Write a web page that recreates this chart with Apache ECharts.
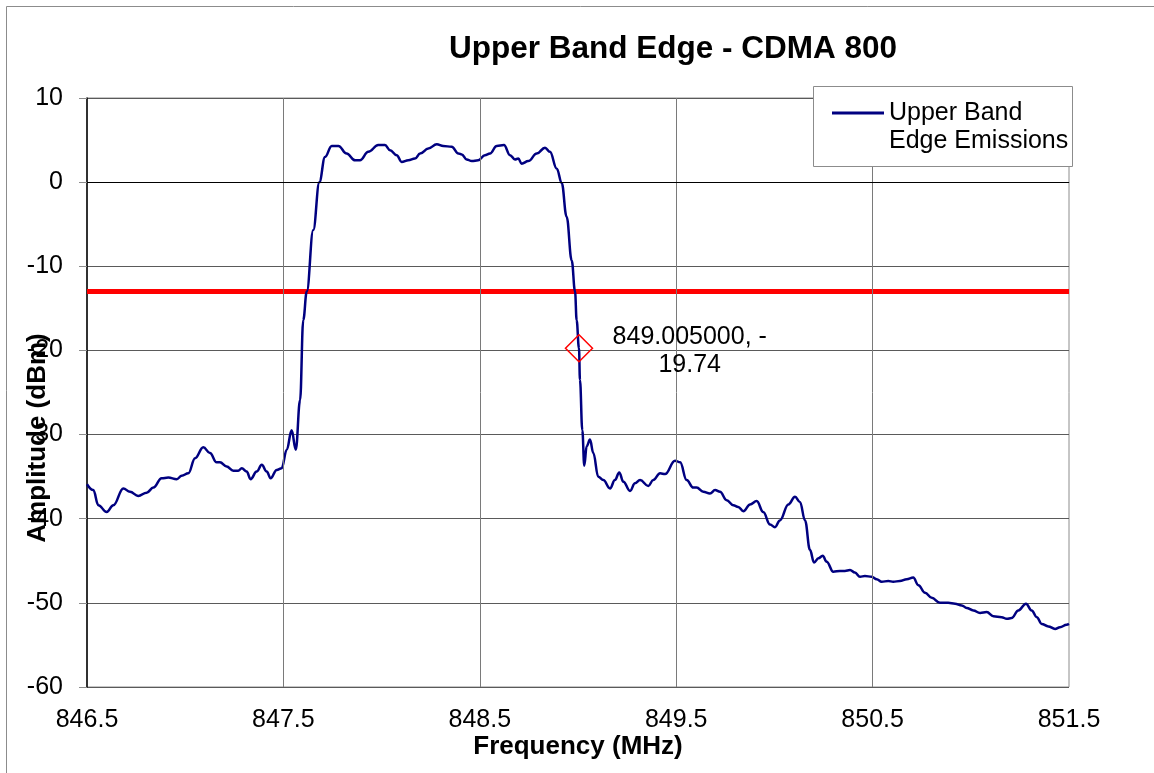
<!DOCTYPE html>
<html>
<head>
<meta charset="utf-8">
<title>Upper Band Edge - CDMA 800</title>
<script src="https://cdn.jsdelivr.net/npm/echarts@6/dist/echarts.min.js"></script>
<style>
  html, body { margin: 0; padding: 0; background: #fff; }
  #chart { width: 1154px; height: 773px; }
</style>
</head>
<body>
<div id="chart"></div>
<script>
// frequency (MHz) / amplitude (dBm)
const freq = [
  846.500, 846.532, 846.558, 846.600, 846.634, 846.685, 846.719, 846.761, 846.804, 846.838,
  846.880, 846.914, 846.957, 846.982, 847.016, 847.050, 847.092, 847.126, 847.160, 847.177,
  847.211, 847.245, 847.270, 847.288, 847.313, 847.333, 847.364, 847.390, 847.415, 847.435,
  847.466, 847.491, 847.517, 847.542, 847.563, 847.585, 847.601, 847.619, 847.652, 847.683,
  847.712, 847.746, 847.780, 847.822, 847.865, 847.890, 847.932, 847.983, 848.017, 848.043,
  848.077, 848.102, 848.136, 848.170, 848.196, 848.238, 848.281, 848.314, 848.357, 848.391,
  848.408, 848.433, 848.459, 848.492, 848.526, 848.552, 848.586, 848.623, 848.654, 848.679,
  848.696, 848.713, 848.747, 848.790, 848.832, 848.857, 848.892, 848.917, 848.942, 848.968,
  848.985, 848.993, 849.005, 849.010, 849.022, 849.032, 849.044, 849.061, 849.078, 849.103,
  849.129, 849.163, 849.188, 849.210, 849.231, 849.265, 849.290, 849.316, 849.358, 849.383,
  849.418, 849.443, 849.494, 849.520, 849.553, 849.587, 849.604, 849.638, 849.672, 849.698,
  849.723, 849.757, 849.791, 849.816, 849.842, 849.876, 849.910, 849.943, 849.978, 850.003,
  850.028, 850.071, 850.105, 850.130, 850.156, 850.181, 850.202, 850.224, 850.246, 850.266,
  850.300, 850.334, 850.359, 850.385, 850.410, 850.436, 850.461, 850.495, 850.521, 850.546,
  850.580, 850.605, 850.639, 850.674, 850.707, 850.733, 850.767, 850.801, 850.843, 850.885,
  850.920, 850.954, 850.979, 851.013, 851.047, 851.081, 851.115, 851.157, 851.183, 851.208,
  851.242, 851.281, 851.310, 851.336, 851.361, 851.395, 851.429, 851.454, 851.488, 851.500
];
const amp = [
  -35.9, -36.6, -38.4, -39.2, -38.4, -36.4, -36.8, -37.3, -36.9, -36.3,
  -35.2, -35.1, -35.3, -34.9, -34.6, -32.8, -31.5, -32.2, -33.3, -33.3,
  -33.8, -34.3, -34.3, -34.0, -34.4, -35.3, -34.4, -33.6, -34.4, -35.2,
  -34.2, -34.0, -31.8, -29.5, -31.8, -25.9, -16.4, -13.0, -5.7, 0.0,
  3.0, 4.3, 4.3, 3.4, 2.6, 2.6, 3.6, 4.4, 4.4, 3.8,
  3.2, 2.4, 2.6, 2.8, 3.4, 4.0, 4.5, 4.3, 4.2, 3.4,
  3.3, 2.7, 2.5, 2.6, 3.2, 3.4, 4.3, 4.4, 3.2, 2.7,
  2.8, 2.2, 2.5, 3.4, 4.1, 3.6, 1.6, -0.1, -4.1, -9.3,
  -13.0, -16.4, -19.74, -23.5, -29.5, -33.7, -31.4, -30.6, -32.2, -35.0,
  -35.4, -36.4, -35.4, -34.5, -35.6, -36.7, -35.8, -35.4, -36.1, -35.4,
  -34.6, -34.7, -33.1, -33.3, -35.4, -36.3, -36.3, -36.8, -37.0, -36.6,
  -36.8, -37.8, -38.4, -38.6, -39.1, -38.3, -37.9, -39.2, -40.7, -41.0,
  -40.2, -38.3, -37.4, -38.0, -40.2, -43.7, -45.2, -44.7, -44.4, -45.1,
  -46.3, -46.2, -46.2, -46.1, -46.4, -46.9, -46.8, -46.9, -47.2, -47.5,
  -47.4, -47.5, -47.4, -47.2, -47.0, -47.9, -48.8, -49.4, -50.0, -50.0,
  -50.1, -50.3, -50.6, -50.9, -51.2, -51.1, -51.6, -51.7, -51.9, -51.8,
  -50.9, -50.1, -50.9, -51.7, -52.5, -52.8, -53.1, -52.9, -52.6, -52.5
];

// axis ticks
const xTicks = [846.5, 847.5, 848.5, 849.5, 850.5, 851.5];
const yTicks = [-60, -50, -40, -30, -20, -10, 0, 10];

// limit line and marked point
const limit = -13;
const marker = [849.005, -19.74];

const chart = echarts.init(document.getElementById('chart'));
const font = 'Liberation Sans, Arial, sans-serif';

const option = {
  animation: false,
  textStyle: { fontFamily: font },
  graphic: [
    {
      // outer chart frame
      type: 'rect',
      shape: { x: 6.5, y: 6.5, width: 1200, height: 800 },
      style: { fill: 'none', stroke: '#8c8c8c', lineWidth: 1 },
      silent: true
    },
    {
      // legend box (drawn under the legend)
      type: 'rect',
      z: 50,
      shape: { x: 813.5, y: 86.5, width: 259, height: 80 },
      style: { fill: '#fff', stroke: '#8c8c8c', lineWidth: 1 },
      silent: true
    },
    {
      // y axis title, sits lower than the plot middle like the original
      type: 'text',
      x: 38,
      y: 438,
      rotation: Math.PI / 2,
      silent: true,
      style: {
        text: 'Amplitude (dBm)',
        fill: '#000',
        font: 'bold 26px ' + font,
        align: 'center',
        verticalAlign: 'middle'
      }
    }
  ],
  title: {
    text: 'Upper Band Edge - CDMA 800',
    left: 668,
    top: 28,
    textAlign: 'center',
    textStyle: { fontFamily: font, fontSize: 31.5, fontWeight: 'bold', color: '#000' }
  },
  legend: {
    data: ['Upper Band Edge Emissions'],
    left: 832,
    top: 71,
    z: 60,
    padding: 0,
    itemWidth: 52,
    itemHeight: 3,
    icon: 'rect',
    // blank first line so the icon lines up with "Upper Band"
    formatter: () => ' \nUpper Band\nEdge Emissions',
    textStyle: { fontFamily: font, fontSize: 25, color: '#000', lineHeight: 28 }
  },
  grid: {
    left: 87,
    top: 98,
    right: 85,
    bottom: 86,
    outerBoundsMode: 'none',
    containLabel: false,
    show: true,
    borderColor: '#8c8c8c',
    borderWidth: 1
  },
  xAxis: {
    type: 'value',
    min: xTicks[0],
    max: xTicks[xTicks.length - 1],
    interval: 0.5,
    name: 'Frequency (MHz)',
    nameLocation: 'middle',
    nameGap: 47,
    nameMoveOverlap: false,
    nameTextStyle: { fontFamily: font, fontSize: 26, fontWeight: 'bold', color: '#000' },
    axisLine: { show: true, lineStyle: { color: '#8c8c8c', width: 1 } },
    axisTick: { show: false },
    splitLine: { show: false },
    axisLabel: {
      margin: 21,
      fontSize: 25,
      color: '#000',
      formatter: v => (xTicks.some(t => Math.abs(t - v) < 1e-6) ? v.toFixed(1) : '')
    }
  },
  yAxis: {
    type: 'value',
    min: yTicks[0],
    max: yTicks[yTicks.length - 1],
    interval: 10,
    axisLine: { show: true, lineStyle: { color: '#000', width: 1.5 } },
    axisTick: { show: true, length: 8, lineStyle: { color: '#8c8c8c' } },
    splitLine: { show: true, lineStyle: { color: '#5a5a5a', width: 1 } },
    axisLabel: { margin: 24, fontSize: 25, color: '#000' }
  },
  series: [
    {
      // vertical grid lines + zero line
      name: 'grid',
      type: 'line',
      data: [],
      silent: true,
      markLine: {
        symbol: 'none',
        silent: true,
        label: { show: false },
        animation: false,
        data: xTicks.slice(1, -1).map(t => ({ xAxis: t, lineStyle: { color: '#7a7a7a', width: 1, type: 'solid' } }))
          .concat([{ yAxis: 0, lineStyle: { color: '#000', width: 1, type: 'solid' } }])
      }
    },
    {
      name: 'Limit',
      type: 'line',
      data: [[xTicks[0], limit], [xTicks[xTicks.length - 1], limit]],
      showSymbol: false,
      silent: true,
      lineStyle: { color: '#ff0000', width: 5 },
      z: 3
    },
    {
      name: 'Upper Band Edge Emissions',
      type: 'line',
      data: freq.map((f, i) => [f, amp[i]]),
      showSymbol: false,
      smooth: 0.4,
      smoothMonotone: 'x',
      color: '#000080',
      lineStyle: { color: '#000080', width: 2.5 },
      z: 4
    },
    {
      name: 'marker',
      type: 'scatter',
      data: [marker],
      symbol: 'diamond',
      symbolSize: [27, 27],
      itemStyle: { color: 'rgba(0,0,0,0)', borderColor: '#ff0000', borderWidth: 1.5, opacity: 1 },
      label: {
        show: true,
        position: [125, 17],
        align: 'center',
        verticalAlign: 'middle',
        fontFamily: font,
        fontSize: 25,
        lineHeight: 28,
        color: '#000',
        formatter: p => p.value[0].toFixed(6) + ', -\n' + Math.abs(p.value[1]).toFixed(2)
      },
      emphasis: { disabled: true },
      z: 5
    }
  ]
};

chart.setOption(option);
</script>
</body>
</html>
